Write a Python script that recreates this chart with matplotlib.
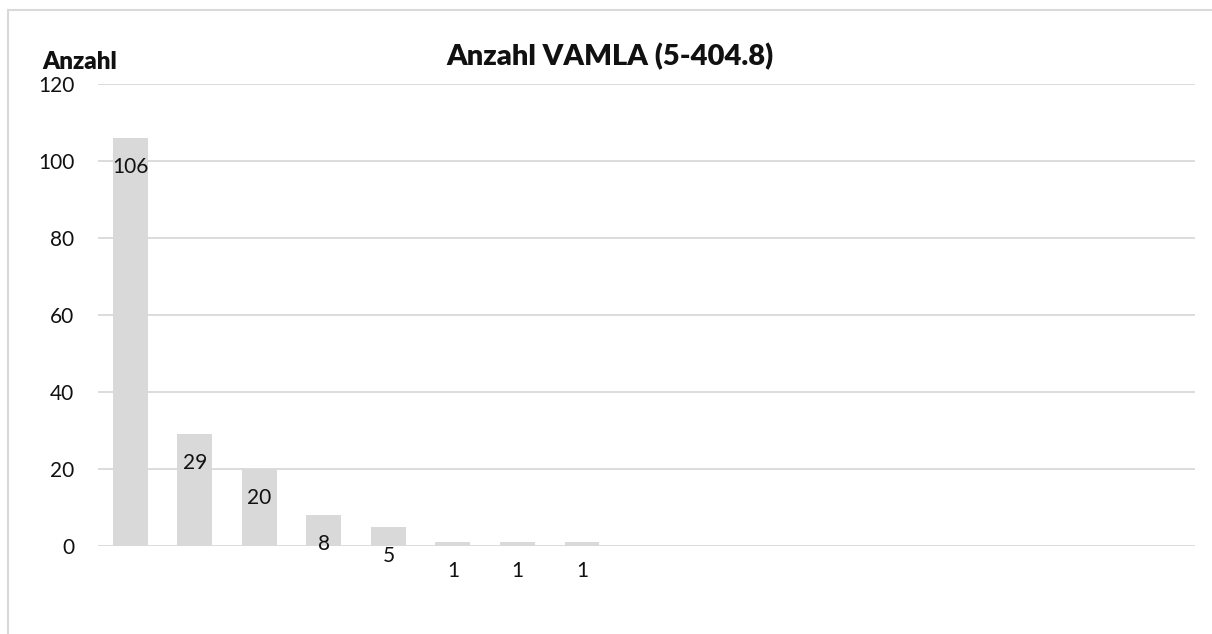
import numpy as np
import matplotlib.pyplot as plt
from matplotlib.lines import Line2D

plt.rcParams['font.family'] = ['Lato', 'DejaVu Sans']

# 17 Kategorien, nur die ersten 8 belegt
categories = [str(i) for i in range(1, 18)]
counts = [106, 29, 20, 8, 5, 1, 1, 1] + [None] * 9
yticks = [0, 20, 40, 60, 80, 100, 120]

W, H = 1212, 634
fig = plt.figure(figsize=(W / 100, H / 100), dpi=100)
ax = fig.add_axes([98 / W, 88 / H, (1195 - 98) / W, 462 / H])

x = np.arange(len(categories))
vals = np.array([np.nan if v is None else v for v in counts], dtype=float)
ax.bar(x, np.nan_to_num(vals), width=0.54, color='#d9d9d9', zorder=2)

# Datenbeschriftungen (innen am Ende)
for xi, v in zip(x, counts):
    if v is None:
        continue
    ax.annotate(str(v), (xi, v), xytext=(0, -29), textcoords='offset pixels',
                ha='center', va='center', fontsize=15, color='#111111')

ax.set_xlim(-0.5, len(categories) - 0.5)
ax.set_ylim(0, 120)
ax.set_yticks(yticks)
ax.set_xticks([])
ax.yaxis.grid(True, color='#d9d9d9', linewidth=1.3, zorder=0)
ax.set_axisbelow(True)
for s in ax.spines.values():
    s.set_visible(False)
ax.tick_params(axis='y', length=0, pad=17, labelsize=15, labelcolor='#111111')

fig.text(610 / W, 1 - 57 / H, 'Anzahl VAMLA (5-404.8)', ha='center', va='center',
         fontsize=21, fontweight='heavy', color='#111111')
fig.text(42 / W, 1 - 62 / H, 'Anzahl', ha='left', va='center',
         fontsize=17.5, fontweight='heavy', color='#111111')

# Rahmen (nur links und oben sichtbar)
fig.add_artist(Line2D([7.5 / W, 7.5 / W], [0, 1 - 9.5 / H], transform=fig.transFigure,
                      color='#d9d9d9', linewidth=1.5))
fig.add_artist(Line2D([7.5 / W, 1], [1 - 9.5 / H, 1 - 9.5 / H], transform=fig.transFigure,
                      color='#d9d9d9', linewidth=1.5))

fig.savefig('out.png', dpi=100, facecolor='white')
